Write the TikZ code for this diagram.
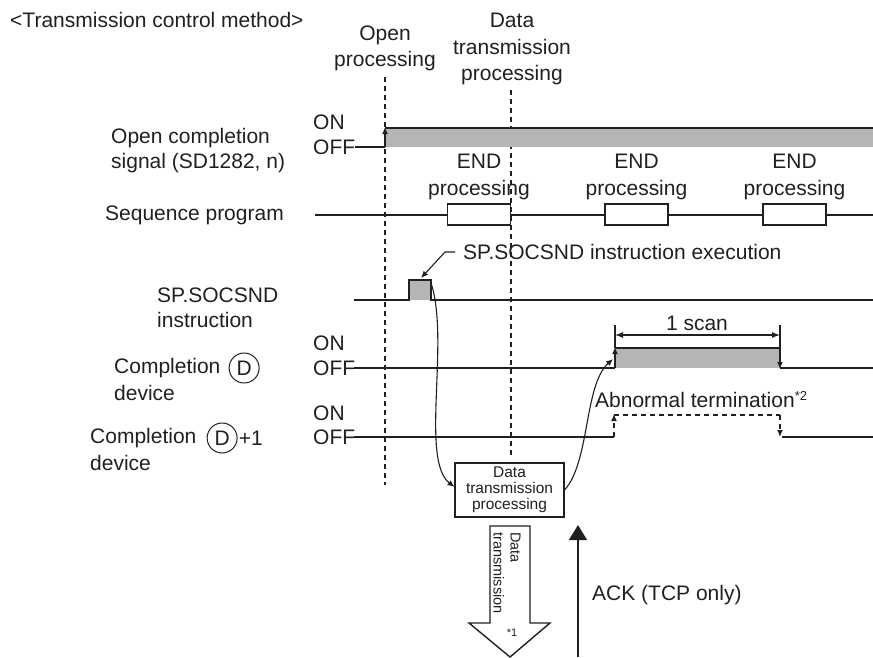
\documentclass[tikz,border=0pt]{standalone}
\usepackage{fontspec}
\setmainfont{Liberation Sans}
\usetikzlibrary{positioning,arrows.meta}
\definecolor{ink}{HTML}{231F20}
\definecolor{pulsegray}{HTML}{B5B5B5}

\begin{document}
\begin{tikzpicture}[x=1pt, y=-1pt,
    lbl/.style={inner sep=0pt, text=ink, font=\fontsize{21}{25}\selectfont},
    hdr/.style={lbl, align=center, font=\fontsize{21}{26.5}\selectfont},
    small/.style={inner sep=0pt, text=ink, font=\fontsize{15.5}{16}\selectfont},
    dcirc/.style={circle, draw=ink, line width=1pt, minimum size=30pt, inner sep=0pt, text=ink, font=\fontsize{21}{25}\selectfont},
    sig/.style={draw=ink, line width=1.6pt},
    guide/.style={draw=ink, line width=1.1pt, dash pattern=on 5pt off 4pt},
    tip/.style={-{Latex[length=7pt,width=6pt]}},
    endbox/.style={draw=ink, line width=1.4pt, fill=white}]
  \useasboundingbox (0,0) rectangle (873,657);

  % headings
  \node[lbl, anchor=west] (title) at (10,20) {<Transmission control method>};
  \node[hdr] (openhd) at (385,48.5) {Open\\processing};
  \node[hdr] (datahd) at (512,49) {Data\\transmission\\processing};
  \draw[guide] (385,77) -- (385,485);
  \draw[guide] (511,90) -- (511,457);

  % open completion signal
  \node[lbl, anchor=west, align=left] (opensig) at (111,150.5) {Open completion\\signal (SD1282, n)};
  \node[lbl, anchor=west] (on1) at (313,122) {ON};
  \node[lbl, anchor=west] (off1) at (313,147) {OFF};
  \fill[pulsegray] (385,128) rectangle (873,147);
  \draw[sig] (355,147) -- (385,147);
  \draw[sig, tip] (385,147) -- (385,127);
  \draw[sig] (385,128) -- (873,128);

  % sequence program
  \node[lbl, anchor=west] (seqprog) at (105,215) {Sequence program};
  \draw[sig] (315,215) -- (873,215);
  \foreach \x in {447.5,605,763} {
    \draw[endbox] (\x,204) rectangle ++(63,21);
    \node[hdr] at (\x+31.5,177) {END\\processing};
  }

  % SP.SOCSND instruction
  \node[lbl, anchor=west, align=left] (sndlbl) at (157,307.5) {SP.SOCSND\\instruction};
  \fill[pulsegray] (409,280) rectangle (431,300);
  \draw[sig] (354,300) -- (409,300) -- (409,280) -- (431,280) -- (431,300) -- (873,300);
  \coordinate (sndmid) at (421,278);
  \coordinate (sndtop) at (431,283);
  \node[lbl, anchor=west] (exe) at (463,252) {SP.SOCSND instruction execution};
  \draw[ink, line width=1.1pt, tip] ([xshift=-8pt]exe.west) -- ([xshift=-18pt]exe.west) -- (sndmid);

  % completion device D
  \node[lbl, anchor=west] (cd) at (114,368) {Completion};
  \node[dcirc, right=8pt of cd] (cdD) {D};
  \node[lbl, anchor=west] (cddev) at (114,393) {device};
  \node[lbl, anchor=west] (on2) at (313,343) {ON};
  \node[lbl, anchor=west] (off2) at (313,368) {OFF};
  \fill[pulsegray] (615,348) rectangle (780,368);
  \draw[sig] (354,368) -- (615,368);
  \draw[sig, tip] (615,368) -- (615,347);
  \draw[sig] (615,348) -- (780,348);
  \draw[sig, tip] (780,348) -- (780,369);
  \draw[sig] (780,368) -- (873,368);
  \draw[ink, line width=1.1pt] (615,348) -- (615,325) (780,348) -- (780,325);
  \draw[ink, line width=1.1pt, {Latex[length=8pt,width=6pt]}-{Latex[length=8pt,width=6pt]}] (615,335) -- (780,335);
  \node[lbl] (scan) at (697,323) {1 scan};

  % completion device D+1
  \node[lbl, anchor=west] (ce) at (90,438) {Completion};
  \node[dcirc, right=10pt of ce] (ceD) {D};
  \node[lbl, right=1pt of ceD] (plus) {+1};
  \node[lbl, anchor=west] (cedev) at (90,463) {device};
  \node[lbl, anchor=west] (on3) at (313,413) {ON};
  \node[lbl, anchor=west] (off3) at (313,437) {OFF};
  \draw[sig] (354,437) -- (614,437);
  \draw[guide, line width=1.2pt, tip] (614,437) -- (614,414);
  \draw[guide, line width=1.2pt] (614,415) -- (780,415);
  \draw[guide, line width=1.2pt, tip] (780,415) -- (780,437);
  \draw[sig] (782,437) -- (873,437);
  \node[lbl, anchor=west] (abn) at (595,400) {Abnormal termination\raisebox{7pt}{\fontsize{13}{13}\selectfont *2}};

  % data transmission processing
  \node[small, draw=ink, line width=1.1pt, align=center, minimum width=109pt, minimum height=54pt] (dtp) at (509.5,490) {Data\\transmission\\processing};
  \draw[ink, line width=1.1pt, tip] (sndtop) .. controls (450,340) and (420,460) .. ([yshift=3pt]dtp.west);
  \draw[ink, line width=1.1pt, tip] (dtp.east) .. controls (590,462) and (584,385) .. (613,359);

  % data transmission arrow
  \draw[ink, line width=1.4pt, fill=white] (490,526) -- (530,526) -- (530,623) -- (550,623)
    -- (510,657) -- (469,623) -- (490,623) -- cycle;
  \node[inner sep=0pt, text=ink, rotate=-90, align=left, font=\fontsize{14.5}{17}\selectfont] (dtx) at (507,573) {Data\\transmission};
  \node[inner sep=0pt, text=ink, font=\fontsize{11}{11}\selectfont] (n1) at (512,633) {*1};

  % ACK
  \coordinate (ackfoot) at (578,657);
  \draw[ink, line width=1.4pt, -{Triangle[length=15pt,width=18pt]}] (ackfoot) -- (578,525);
  \node[lbl, anchor=west] (ack) at (592,595) {ACK (TCP only)};
\end{tikzpicture}
\end{document}
